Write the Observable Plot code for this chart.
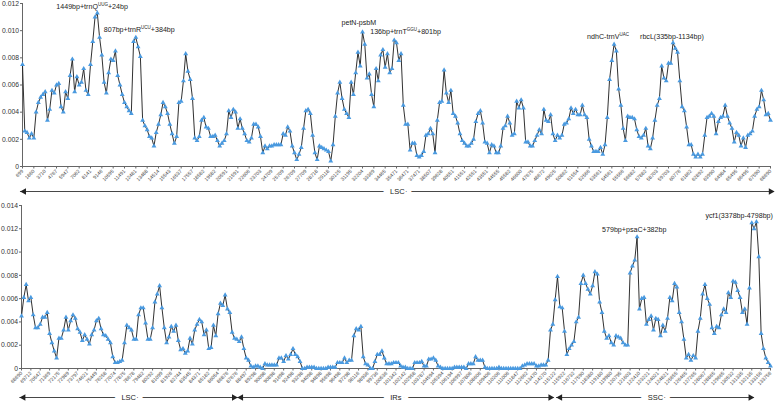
<!DOCTYPE html>
<html>
<head>
<meta charset="utf-8">
<script src="https://cdn.jsdelivr.net/npm/d3@7"></script>
<script src="https://cdn.jsdelivr.net/npm/@observablehq/plot@0.6"></script>
<style>
  html, body { margin: 0; padding: 0; background: #fff; }
  #chart svg { display: block; }
</style>
</head>
<body>
<div id="chart"></div>
<script>
// ---------- DATA ----------
const topLabels = [699,1860,3710,4767,5947,7062,8141,9146,10595,11491,12481,13488,14514,15543,16537,17557,18582,19582,20591,21591,22606,23703,24709,25709,26709,27709,28718,29118,30125,31195,32204,33369,34465,35471,36471,37471,38507,39628,40551,41551,42551,43551,44555,45582,46600,47675,48672,49625,50862,51554,52566,53561,54561,55566,56682,57882,58703,59703,60776,61862,62892,63990,64984,65495,66495,67590,68690];

const bottomLabels = [68690,69712,70547,71369,72175,72989,73797,74621,75449,76258,77074,77875,78678,79482,80292,81099,81926,82744,83545,84371,85182,86054,86876,87676,88497,89298,90098,90898,91698,92498,93298,94098,94898,95698,96498,97298,98116,98936,99736,100536,101342,102142,102958,103787,104594,105394,106194,106997,107806,108606,109406,110206,111006,111847,112662,113470,114270,115122,115922,116732,117590,118380,119180,119980,120795,121603,122410,123221,124021,124821,125655,126465,127265,128067,128865,129665,130532,131335,132135,133156,133756];

const topPi = [
.0075,.0026,.0025,.0021,.0024,.0021,.0040,.0047,.0051,.0053,
.0055,.0034,.0042,.0056,.0054,.0060,.0061,.0044,.0040,.0055,
.0050,.0067,.0079,.0055,.0066,.0060,.0062,.0072,.0056,.0053,
.0075,.0092,.0110,.0113,.0095,.0082,.0062,.0054,.0069,.0079,
.0078,.0085,.0067,.0060,.0053,.0047,.0044,.0041,.0039,.0092,
.0095,.0088,.0081,.0034,.0030,.0027,.0022,.0021,.0015,.0025,
.0031,.0038,.0047,.0044,.0039,.0031,.0024,.0017,.0022,.0047,
.0048,.0063,.0083,.0070,.0064,.0050,.0021,.0019,.0022,
.0034,.0036,.0029,.0028,.0022,.0022,.0023,.0019,.0015,.0017,
.0019,.0024,.0041,.0036,.0042,.0040,.0028,.0035,.0028,.0024,
.0019,.0018,.0021,.0031,.0031,.0029,.0022,.0010,.0015,.0013,
.0015,.0015,.0016,.0016,.0016,.0016,.0024,.0023,.0029,.0026,
.0015,.0010,.0005,.0009,.0014,.0028,.0041,.0042,.0039,.0023,
.0010,.0005,.0015,.0014,.0013,.0012,.0011,.0004,.0016,.0037,
.0054,.0062,.0050,.0042,.0039,.0036,.0062,.0053,.0069,.0084,
.0074,.0099,.0090,.0065,.0068,.0053,.0044,.0072,.0063,.0082,
.0086,.0073,.0083,
.0069,.0072,.0093,.0091,.0078,.0083,.0045,.0031,.0031,.0012,
.0017,.0017,.0008,.0007,.0008,.0011,.0023,.0024,.0028,.0024,
.0010,.0034,.0047,.0048,.0071,.0054,.0047,.0056,.0039,.0037,
.0032,.0024,.0019,.0017,.0015,.0015,.0017,.0020,.0033,.0039,
.0041,.0032,.0018,.0017,.0010,.0016,.0015,.0010,.0010,.0015,
.0028,.0030,.0037,.0032,.0023,.0024,.0048,.0043,.0049,.0043,
.0018,.0018,.0015,.0015,.0019,.0023,.0027,.0024,.0042,.0034,
.0033,.0038,.0024,.0019,.0023,.0021,.0023,.0031,.0032,.0035,
.0043,.0039,.0042,.0038,
.0038,.0045,.0038,.0036,.0020,.0015,.0011,.0011,.0011,.0014,
.0009,.0016,.0036,.0064,.0078,.0090,.0085,.0057,.0045,.0028,
.0019,.0037,.0036,.0036,.0035,.0027,.0022,.0021,.0023,.0028,
.0015,.0013,.0021,.0034,.0045,.0050,.0074,.0065,.0063,.0076,
.0076,.0091,.0087,.0084,.0063,.0044,.0041,.0029,.0016,.0016,
.0009,.0007,.0009,.0007,.0009,.0023,.0036,.0037,.0039,.0037,
.0024,.0033,.0036,.0037,.0045,.0037,.0032,.0028,.0018,.0025,
.0023,.0015,.0021,.0014,.0023,.0024,.0026,.0037,.0042,.0044,
.0056,.0049,.0038,.0039,.0034
];

const bottomPi = [
.0045,.0061,.0072,.0058,.0061,.0046,.0035,.0035,.0038,.0044,
.0044,.0048,.0030,.0022,.0015,.0009,.0026,.0026,.0033,.0044,
.0033,.0041,.0046,.0043,.0034,.0031,.0024,.0029,.0025,.0021,
.0029,.0033,.0041,.0043,.0034,.0029,.0028,.0025,.0022,.0010,
.0005,.0005,.0006,.0007,.0022,.0037,.0035,.0033,.0025,.0025,
.0046,.0052,.0052,.0039,.0025,.0025,.0035,.0057,.0064,.0071,
.0052,.0035,.0022,.0027,.0036,.0032,.0037,.0024,.0016,.0017,
.0013,.0015,.0026,.0021,.0033,.0038,
.0042,.0040,.0029,.0033,.0017,.0018,.0037,.0028,.0047,.0056,
.0054,.0063,.0051,.0048,.0031,.0026,.0025,.0023,.0027,.0017,
.0009,.0007,.0002,.0001,.0002,.0002,.0001,.0000,.0004,.0003,
.0003,.0003,.0003,.0003,.0009,.0009,.0006,.0011,.0008,.0012,
.0017,.0012,.0010,.0006,.0000,.0000,.0001,.0001,.0001,.0001,
.0000,.0000,.0000,.0000,.0000,.0001,.0001,.0001,.0001,.0005,
.0005,.0005,.0009,.0005,.0007,.0007,.0028,.0034,.0033,.0036,
.0010,.0004,.0003,.0000,.0000,.0006,.0012,.0012,.0015,.0009,
.0004,
.0004,.0004,.0005,.0005,.0005,.0002,.0001,.0001,.0000,.0000,
.0000,.0005,.0005,.0005,.0006,.0002,.0002,.0008,.0008,.0009,
.0007,.0002,.0001,.0000,.0000,.0000,.0000,.0000,.0001,.0001,
.0001,.0001,.0001,.0000,.0004,.0004,.0004,.0010,.0007,.0007,
.0007,.0001,.0000,.0000,.0000,.0000,.0000,.0001,.0000,.0000,
.0000,.0000,.0000,.0000,.0000,.0000,.0000,.0002,.0003,.0004,
.0004,.0004,.0004,.0002,.0002,.0003,.0003,.0003,.0007,.0033,
.0038,.0059,.0079,.0053,.0052,.0032,.0012,.0017,.0020,.0023,
.0040,.0044,.0073,
.0080,.0073,.0068,.0064,.0071,.0083,.0081,.0057,.0048,.0032,
.0026,.0028,.0022,.0020,.0028,.0027,.0026,.0022,.0020,.0020,
.0082,.0088,.0093,.0113,.0051,.0060,.0061,.0038,.0042,.0045,
.0033,.0043,.0042,.0028,.0037,.0032,.0043,.0061,.0058,.0073,
.0070,.0048,.0040,.0025,.0009,.0012,.0007,.0011,.0009,.0032,
.0043,.0064,.0072,.0060,.0055,.0035,.0030,.0036,.0035,.0046,
.0051,.0048,.0065,.0061,.0075,.0074,.0067,.0061,.0048,.0051,
.0038,.0069,.0125,.0120,.0126,.0096,.0030,.0017,.0009,.0005,
.0002
];

// regions along the window index (boundaries between LSC / IR / SSC)
const topRegions = [{name: "LSC", from: -0.9, to: 331.7}];
const bottomRegions = [
  {name: "LSC", from: -0.7, to: 92.3},
  {name: "IRs", from: 92.3, to: 227.5},
  {name: "SSC", from: 228.6, to: 313}
];

// annotated peaks (index of window, label parts)
const topNotes = [
  {i: 33,  text: "1449bp+trnQ", sup: "UUG", tail: "+24bp"},
  {i: 50,  text: "807bp+trnR",  sup: "UCU", tail: "+384bp"},
  {i: 150, text: "petN-psbM",   sup: "",    tail: ""},
  {i: 164, text: "136bp+trnT",  sup: "GGU", tail: "+801bp"},
  {i: 261, text: "ndhC-trnV",   sup: "UAC", tail: ""},
  {i: 287, text: "rbcL(335bp-1134bp)", sup: "", tail: ""}
];
const bottomNotes = [
  {i: 263, text: "579bp+psaC+382bp", sup: "", tail: ""},
  {i: 314, text: "ycf1(3378bp-4798bp)", sup: "", tail: ""}
];

// ---------- LAYOUT ----------
const topNoteOffsets = [[-41, -6.5], [-32, -8], [-21, -9.5], [-24, -8.7], [-27, -8], [-33, -6]];
const bottomNoteOffsets = [[-35, -7], [-51, -6]];

const FONT = '"Liberation Sans", Arial, Helvetica, sans-serif';
const LINE = "#1a1a1a";
const MARK = "#4a9ae0";

function panel({values, labels, step, yMax, regions, notes, offsets, height, marginTop, marginBottom, marginLeft, arrowDy}) {
  const data = values.map((v, i) => ({i, v}));
  const last = (labels.length - 1) * step;
  const ticks = d3.range(0, last + 1, step);
  const yTicks = d3.range(0, yMax + 1e-9, 0.002);
  const noteMarks = notes.map((n, k) => Plot.text([n], {
    x: "i", y: d => values[d.i],
    text: d => d.text + d.sup + d.tail,
    dx: offsets[k][0], dy: offsets[k][1],
    textAnchor: "start", lineAnchor: "middle",
    fontSize: 7.1, fill: "#222"
  }));
  const svg = Plot.plot({
    width: 777, height,
    marginTop, marginBottom, marginLeft, marginRight: 7,
    style: {fontFamily: FONT, fontSize: "7.5px", background: "#fff", overflow: "visible"},
    x: {domain: [0, last], label: null},
    y: {domain: [0, yMax], label: null},
    marks: [
      Plot.ruleY([0], {stroke: "#666", strokeWidth: 1}),
      Plot.ruleX([0], {stroke: "#666", strokeWidth: 1}),
      Plot.axisY({ticks: yTicks, tickFormat: d => d === 0 ? "0" : d.toFixed(3), tickSize: 2, tickPadding: 1.5, fontSize: 6.8, fill: "#333", stroke: "#666", label: null}),
      Plot.axisX({ticks, tickFormat: d => String(labels[Math.round(d / step)]), tickRotate: -45, tickSize: 2.5, tickPadding: 1.5, fontSize: 5, fill: "#444", stroke: "#666", label: null}),
      Plot.line(data, {x: "i", y: "v", stroke: LINE, strokeWidth: 0.9}),
      Plot.dot(data, {x: "i", y: "v", symbol: "triangle", r: 1.8, fill: MARK, stroke: "none"}),
      ...noteMarks,
      // region arrows
      Plot.ruleY(regions, {y: () => 0, x1: "from", x2: "to", dy: arrowDy, stroke: "#333", strokeWidth: 0.9}),
      Plot.dot(regions, {x: "from", y: () => 0, dy: arrowDy, dx: 3.6, symbol: "triangle", rotate: -90, r: 2.5, fill: "#222", stroke: "none"}),
      Plot.dot(regions, {x: "to", y: () => 0, dy: arrowDy, dx: -3.6, symbol: "triangle", rotate: 90, r: 2.5, fill: "#222", stroke: "none"}),
      Plot.text(regions, {x: d => (d.from + d.to) / 2, y: () => 0, dy: arrowDy, text: "name", fontSize: 7.5, fill: "#222", stroke: "#fff", strokeWidth: 14, paintOrder: "stroke"})
    ]
  });
  // superscripts for tRNA anticodons
  const ns = "http://www.w3.org/2000/svg";
  svg.querySelectorAll("text").forEach(t => {
    const n = notes.find(n => n.sup && n.text + n.sup + n.tail === t.textContent);
    if (!n) return;
    while (t.firstChild) t.removeChild(t.firstChild);
    const a = document.createElementNS(ns, "tspan"); a.textContent = n.text; t.appendChild(a);
    const b = document.createElementNS(ns, "tspan"); b.textContent = n.sup;
    b.setAttribute("style", "font-size:4.5px");
    b.setAttribute("dy", "-2.8"); t.appendChild(b);
    if (n.tail) {
      const c = document.createElementNS(ns, "tspan"); c.textContent = n.tail;
      c.setAttribute("dy", "2.8"); t.appendChild(c);
    }
  });
  return svg;
}

const chart = document.getElementById("chart");
chart.appendChild(panel({
  values: topPi, labels: topLabels, step: 5, yMax: 0.012,
  regions: topRegions, notes: topNotes, offsets: topNoteOffsets,
  height: 195, marginTop: 3, marginBottom: 29, marginLeft: 22, arrowDy: 25
}));
chart.appendChild(panel({
  values: bottomPi, labels: bottomLabels, step: 4, yMax: 0.014,
  regions: bottomRegions, notes: bottomNotes, offsets: bottomNoteOffsets,
  height: 206, marginTop: 10, marginBottom: 33, marginLeft: 21, arrowDy: 29
}));
</script>
</body>
</html>
